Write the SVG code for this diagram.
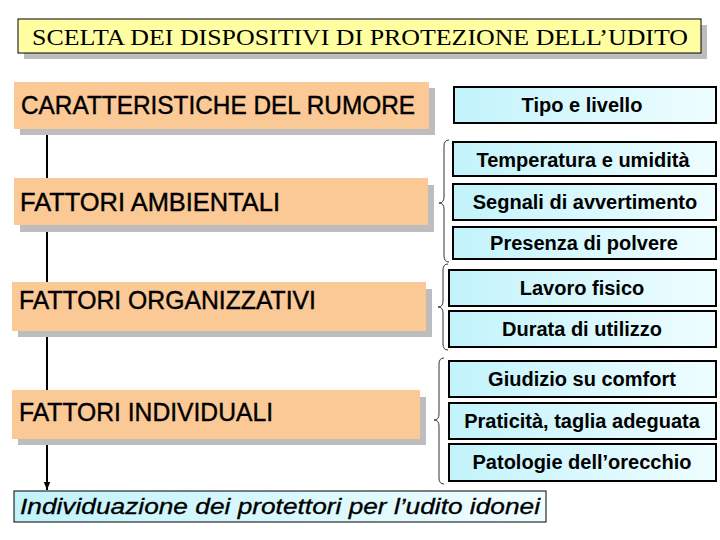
<svg xmlns="http://www.w3.org/2000/svg" width="720" height="540" viewBox="0 0 720 540">
<defs>
<linearGradient id="cy" x1="0" y1="0" x2="1" y2="0">
<stop offset="0" stop-color="#c2f3fb"/>
<stop offset="1" stop-color="#effdff"/>
</linearGradient>
<marker id="arr" viewBox="0 0 10 10" refX="10" refY="5" markerWidth="4" markerHeight="4" orient="auto" markerUnits="strokeWidth">
<path d="M0,1 L10,5 L0,9 z" fill="#000"/>
</marker>
</defs>
<style>
.shadow{fill:#bdbdbd}
.orange{fill:#fbc996}
.lab{font-family:"Liberation Sans",Arial,sans-serif;font-size:25px;fill:#000;stroke:#000;stroke-width:0.4}
.rbox{fill:url(#cy);stroke:#000;stroke-width:2}
.rt{font-family:"Liberation Sans",Arial,sans-serif;font-size:20px;font-weight:bold;fill:#000;text-anchor:middle}
.brace{fill:none;stroke:#333;stroke-width:1}
</style>
<rect width="720" height="540" fill="#fff"/>

<g id="title">
<rect class="shadow" x="24" y="25" width="683" height="34"/>
<rect x="18" y="19" width="683" height="34" fill="#ffffa2" stroke="#000" stroke-width="1"/>
<text x="32" y="45" font-family="'Liberation Serif','Times New Roman',serif" font-size="23" textLength="656" lengthAdjust="spacingAndGlyphs">SCELTA DEI DISPOSITIVI DI PROTEZIONE DELL’UDITO</text>
</g>

<g id="connectors">
<line x1="47" y1="128" x2="47" y2="490" stroke="#000" stroke-width="2" marker-end="url(#arr)"/>
<path class="brace" d="M449,140 Q444,140 444,146 L444,197 Q444,203 439,203 Q444,203 444,209 L444,256 Q444,262 449,262"/>
<path class="brace" d="M448,264 Q443,264 443,270 L443,301 Q443,307 438,307 Q443,307 443,313 L443,344 Q443,350 448,350"/>
<path class="brace" d="M444,358 Q439,358 439,364 L439,414 Q439,420 434,420 Q439,420 439,426 L439,478 Q439,484 444,484"/>
</g>

<g id="rumore">
<rect class="shadow" x="20" y="88" width="415" height="47"/>
<rect class="orange" x="14" y="82" width="415" height="47"/>
<text class="lab" x="21" y="114" textLength="394" lengthAdjust="spacingAndGlyphs">CARATTERISTICHE DEL RUMORE</text>
</g>

<g id="ambientali">
<rect class="shadow" x="20" y="185" width="414" height="47"/>
<rect class="orange" x="14" y="178" width="414" height="47"/>
<text class="lab" x="20" y="211" textLength="260" lengthAdjust="spacingAndGlyphs">FATTORI AMBIENTALI</text>
</g>

<g id="organizzativi">
<rect class="shadow" x="18" y="289" width="414" height="48"/>
<rect class="orange" x="12" y="282" width="414" height="49"/>
<text class="lab" x="19" y="309" textLength="297" lengthAdjust="spacingAndGlyphs">FATTORI ORGANIZZATIVI</text>
</g>

<g id="individuali">
<rect class="shadow" x="18" y="397" width="408" height="48"/>
<rect class="orange" x="12" y="390" width="408" height="49"/>
<text class="lab" x="19" y="421" textLength="254" lengthAdjust="spacingAndGlyphs">FATTORI INDIVIDUALI</text>
</g>

<g id="tipo"><rect class="rbox" x="454" y="87" width="262" height="36"/><text class="rt" x="582" y="112">Tipo e livello</text></g>
<g id="temperatura"><rect class="rbox" x="453" y="142" width="263" height="34"/><text class="rt" x="583" y="167">Temperatura e umidità</text></g>
<g id="segnali"><rect class="rbox" x="453" y="184" width="263" height="36"/><text class="rt" x="585" y="209">Segnali di avvertimento</text></g>
<g id="polvere"><rect class="rbox" x="453" y="227" width="263" height="32"/><text class="rt" x="584" y="250">Presenza di polvere</text></g>
<g id="lavoro"><rect class="rbox" x="449" y="270" width="267" height="36"/><text class="rt" x="582" y="295">Lavoro fisico</text></g>
<g id="durata"><rect class="rbox" x="449" y="311" width="267" height="36"/><text class="rt" x="582" y="336">Durata di utilizzo</text></g>
<g id="giudizio"><rect class="rbox" x="449" y="361" width="267" height="36"/><text class="rt" x="582" y="386">Giudizio su comfort</text></g>
<g id="praticita"><rect class="rbox" x="449" y="403" width="267" height="36"/><text class="rt" x="582" y="428">Praticità, taglia adeguata</text></g>
<g id="patologie"><rect class="rbox" x="449" y="444" width="267" height="37"/><text class="rt" x="582" y="469">Patologie dell’orecchio</text></g>

<g id="individuazione">
<rect x="14" y="491" width="532" height="31" fill="url(#cy)" stroke="#000" stroke-width="1"/>
<text x="20" y="514" font-family="'Liberation Sans',Arial,sans-serif" font-size="22" font-style="italic" stroke="#000" stroke-width="0.3" textLength="520" lengthAdjust="spacingAndGlyphs">Individuazione dei protettori per l’udito idonei</text>
</g>
</svg>
